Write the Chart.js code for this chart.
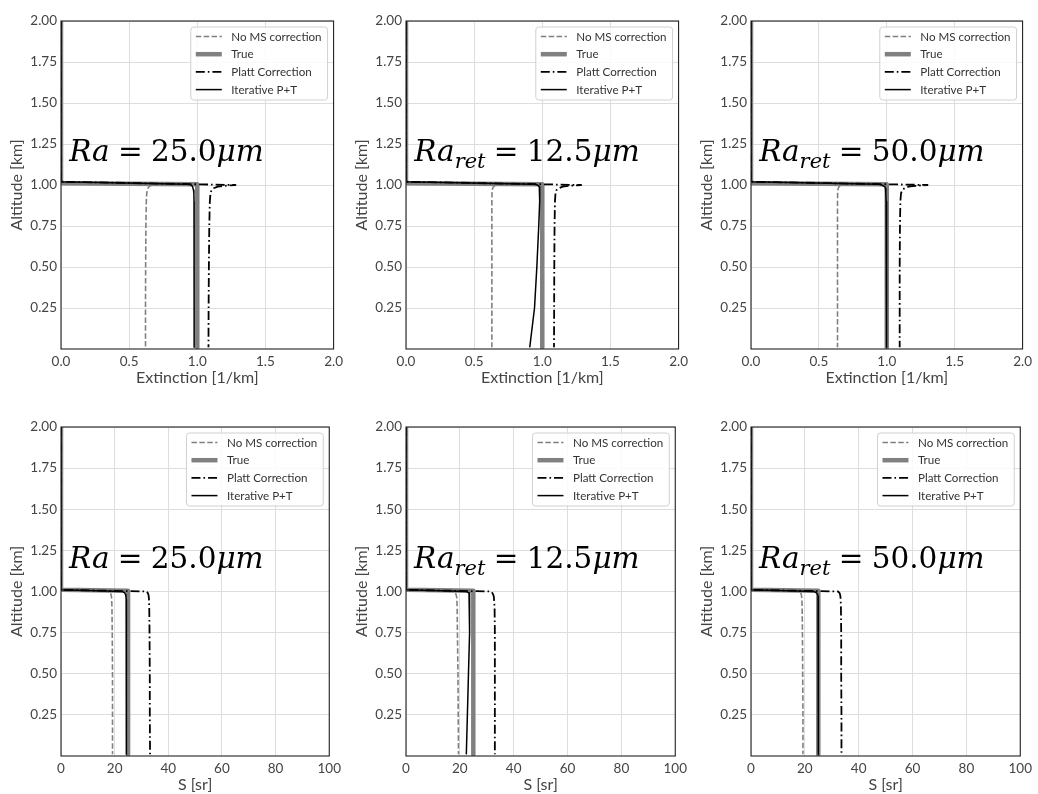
<!DOCTYPE html>
<html><head><meta charset="utf-8">
<script src="https://cdn.jsdelivr.net/npm/chart.js@4.4.1/dist/chart.umd.min.js"></script>
<style>
html,body{margin:0;padding:0;background:#fff;}
#wrap{position:relative;width:1038px;height:794px;overflow:hidden;background:#fff;}
#wrap canvas{position:absolute;}
</style></head><body><div id="wrap"></div>
<script>
// ---------- DATA ----------
// common altitude grid [km]; null = no sample for that series at that altitude
const altitude = [2.00, 1.02, 1.01, 1.005, 1.00, 0.995, 0.99, 0.98, 0.97, 0.95, 0.90, 0.75, 0.50, 0.25, 0.01];

const seriesNames = ['No MS correction', 'True', 'Platt Correction', 'Iterative P+T'];

// Extinction [1/km] panels (top row)
const ext25_noMS  = [0, 0, null, null, 0.670, 0.655, 0.645, 0.638, 0.633, 0.629, 0.626, 0.623, 0.621, 0.620, 0.620];
const ext25_true  = [0, null, 0, 1.0, null, null, null, null, null, null, null, null, null, null, 1.0];
const ext25_platt = [0, 0, null, null, 1.280, 1.200, 1.150, 1.120, 1.105, 1.097, 1.092, 1.088, 1.085, 1.083, 1.082];
const ext25_iter  = [0, 0, null, 0.930, 0.955, null, 0.965, null, 0.972, 0.975, 0.976, 0.977, 0.977, 0.977, 0.977];

const ext125_noMS  = [0, 0, null, null, 0.665, 0.650, 0.642, 0.636, 0.633, 0.631, 0.630, 0.630, 0.630, 0.630, 0.630];
const ext125_true  = [0, null, 0, 1.0, null, null, null, null, null, null, null, null, null, null, 1.0];
const ext125_platt = [0, 0, null, null, 1.285, 1.200, 1.150, 1.120, 1.105, 1.097, 1.093, 1.090, 1.088, 1.087, 1.086];
const ext125_iter  = [0, 0, null, 0.940, 0.965, null, 0.978, 0.982, 0.982, 0.981, 0.979, 0.974, 0.960, 0.943, 0.908];

const ext50_noMS  = [0, 0, null, null, 0.667, 0.655, 0.648, 0.643, 0.640, 0.638, 0.637, 0.637, 0.637, 0.637, 0.637];
const ext50_true  = [0, null, 0, 1.0, null, null, null, null, null, null, null, null, null, null, 1.0];
const ext50_platt = [0, 0, null, null, 1.300, 1.210, 1.160, 1.130, 1.115, 1.105, 1.100, 1.097, 1.095, 1.095, 1.095];
const ext50_iter  = [0, 0, null, 0.940, 0.962, null, 0.985, 0.990, 0.992, 0.994, 0.995, 0.997, 0.998, 0.999, 1.000];

// Lidar ratio S [sr] panels (bottom row)
const S25_noMS  = [0, null, 0, null, 18.0, null, 18.4, 18.7, 18.8, 18.9, 19.0, 19.1, 19.2, 19.2, 19.2];
const S25_true  = [0, null, 0, 25, null, null, null, null, null, null, null, null, null, null, 25];
const S25_platt = [0, null, 0, null, 32.0, null, 32.4, 32.6, 32.7, 32.8, 32.9, 33.0, 33.1, 33.1, 33.2];
const S25_iter  = [0, null, 0, null, 23.0, null, 23.8, 24.1, 24.2, 24.3, 24.3, 24.4, 24.4, 24.4, 24.4];

const S125_noMS  = [0, null, 0, null, 18.0, null, 18.4, 18.6, 18.8, 18.9, 19.0, 19.1, 19.3, 19.4, 19.5];
const S125_true  = [0, null, 0, 25, null, null, null, null, null, null, null, null, null, null, 25];
const S125_platt = [0, null, 0, null, 31.5, null, 32.1, 32.4, 32.6, 32.7, 32.9, 33.0, 33.0, 33.0, 33.0];
const S125_iter  = [0, null, 0, null, 22.5, null, 23.4, 23.7, 23.7, 23.7, 23.6, 23.4, 23.2, 22.8, 22.4];

const S50_noMS  = [0, null, 0, null, 18.2, null, 18.5, 18.7, 18.8, 18.9, 19.0, 19.1, 19.2, 19.3, 19.3];
const S50_true  = [0, null, 0, 25, null, null, null, null, null, null, null, null, null, null, 25];
const S50_platt = [0, null, 0, null, 32.4, null, 32.9, 33.1, 33.2, 33.3, 33.4, 33.5, 33.5, 33.6, 33.6];
const S50_iter  = [0, null, 0, null, 23.5, null, 24.4, 24.8, 24.9, 25.0, 25.0, 25.0, 25.0, 25.0, 25.0];

// tick values
const altTicks = [0.25, 0.50, 0.75, 1.00, 1.25, 1.50, 1.75, 2.00];
const extTicks = [0, 0.5, 1.0, 1.5, 2.0];
const sTicks   = [0, 20, 40, 60, 80, 100];

// texts
const yTitle = 'Altitude [km]';
const xTitles = ['Extinction [1/km]', 'S [sr]'];
const radiusValues = ['25.0', '12.5', '50.0'];
const radiusSubs   = ['', 'ret', 'ret'];

// ---------- STYLES / LAYOUT ----------
const seriesStyle = [
  {color: '#808080', width: 1.6, dash: [5.5, 2.4], order: 4},
  {color: '#808080', width: 4.5, dash: [], order: 3},
  {color: '#000000', width: 1.8, dash: [9, 3, 1.6, 3], order: 2},
  {color: '#000000', width: 1.5, dash: [], order: 1}
];

const panels = [
  {row: 0, col: 0, area: [61, 21, 334, 349],  series: [ext25_noMS, ext25_true, ext25_platt, ext25_iter]},
  {row: 0, col: 1, area: [406, 21, 679, 349], series: [ext125_noMS, ext125_true, ext125_platt, ext125_iter]},
  {row: 0, col: 2, area: [751, 21, 1023, 349], series: [ext50_noMS, ext50_true, ext50_platt, ext50_iter]},
  {row: 1, col: 0, area: [61, 427, 332, 756],  series: [S25_noMS, S25_true, S25_platt, S25_iter]},
  {row: 1, col: 1, area: [406, 427, 678, 756], series: [S125_noMS, S125_true, S125_platt, S125_iter]},
  {row: 1, col: 2, area: [751, 427, 1023, 756], series: [S50_noMS, S50_true, S50_platt, S50_iter]}
];

const Y_AXIS_W = 61, PAD_TOP = 21, PAD_RIGHT = 14, X_AXIS_H = 40;
const TICK_FONT = {family: 'Lato', size: 13.5};
const TITLE_FONT = {family: 'Lato', size: 16};
const TEXT_COLOR = '#444444';
const ANN_FONT = 'DejaVu Serif';
const ANN_SIZE = 29.5;

// ---------- PLUGINS ----------
const framePlugin = {
  id: 'frame',
  afterDatasetsDraw(chart) {
    const {ctx, chartArea: a} = chart;
    ctx.save();
    ctx.strokeStyle = '#222222';
    ctx.lineWidth = 1.1;
    ctx.setLineDash([]);
    ctx.strokeRect(a.left, a.top, a.right - a.left, a.bottom - a.top);
    ctx.restore();
  }
};

const legendPlugin = {
  id: 'boxLegend',
  afterDatasetsDraw(chart) {
    const {ctx, chartArea: a} = chart;
    const ds = chart.data.datasets;
    ctx.save();
    ctx.font = '11.6px Lato';
    const tw = Math.max(...ds.map(d => ctx.measureText(d.label).width));
    const w = 40.5 + tw + 6, h = 73;
    const x0 = a.right - 6 - w, y0 = a.top + 6;
    ctx.beginPath();
    ctx.roundRect(x0, y0, w, h, 3);
    ctx.fillStyle = 'rgba(255,255,255,0.85)';
    ctx.fill();
    ctx.strokeStyle = '#d0d0d0';
    ctx.lineWidth = 1;
    ctx.stroke();
    ds.forEach((d, i) => {
      const y = y0 + 9.5 + i * 17.7;
      ctx.beginPath();
      ctx.setLineDash(d.borderDash || []);
      ctx.lineWidth = d.borderWidth;
      ctx.strokeStyle = d.borderColor;
      ctx.lineCap = 'butt';
      ctx.moveTo(x0 + 5, y);
      ctx.lineTo(x0 + 31, y);
      ctx.stroke();
      ctx.setLineDash([]);
      ctx.fillStyle = '#333333';
      ctx.textBaseline = 'middle';
      ctx.textAlign = 'left';
      ctx.fillText(d.label, x0 + 40.5, y + 0.5);
    });
    ctx.restore();
  }
};

const annotationPlugin = {
  id: 'radiusNote',
  afterDatasetsDraw(chart, args, opts) {
    const {ctx, chartArea: a} = chart;
    ctx.save();
    ctx.fillStyle = '#000000';
    ctx.textBaseline = 'alphabetic';
    ctx.textAlign = 'left';
    let x = a.left + 0.03 * (a.right - a.left);
    const y = a.bottom - 0.572 * (a.bottom - a.top);
    const F = ANN_SIZE;
    const draw = (txt, font, dy) => {
      ctx.font = font;
      ctx.fillText(txt, x, y + (dy || 0));
      x += ctx.measureText(txt).width;
    };
    draw('Ra', `italic ${F}px "${ANN_FONT}"`);
    if (opts.sub) draw(opts.sub, `italic ${Math.round(F * 0.7)}px "${ANN_FONT}"`, F * 0.24);
    x += F * 0.28;
    draw('=', `${F}px "${ANN_FONT}"`);
    x += F * 0.28;
    draw(opts.value, `${F}px "${ANN_FONT}"`);
    draw('\u03bcm', `italic ${F}px "${ANN_FONT}"`);
    ctx.restore();
  }
};

// ---------- BUILD ----------
const wrap = document.getElementById('wrap');
panels.forEach(p => {
  const [L, T, R, B] = p.area;
  const cw = (R - L) + Y_AXIS_W + PAD_RIGHT;
  const ch = (B - T) + PAD_TOP + X_AXIS_H;
  const cv = document.createElement('canvas');
  cv.width = cw; cv.height = ch;
  cv.style.left = (L - Y_AXIS_W) + 'px';
  cv.style.top = (T - PAD_TOP) + 'px';
  cv.style.width = cw + 'px'; cv.style.height = ch + 'px';
  wrap.appendChild(cv);

  const isExt = p.row === 0;
  const xTicks = isExt ? extTicks : sTicks;

  const datasets = p.series.map((vals, si) => ({
    label: seriesNames[si],
    data: altitude.map((alt, i) => vals[i] === null ? null : {x: vals[i], y: alt}).filter(v => v !== null),
    showLine: true,
    pointRadius: 0,
    pointHoverRadius: 0,
    borderColor: seriesStyle[si].color,
    borderWidth: seriesStyle[si].width,
    borderDash: seriesStyle[si].dash,
    borderJoinStyle: 'round',
    borderCapStyle: 'butt',
    tension: 0,
    fill: false,
    order: seriesStyle[si].order
  }));

  new Chart(cv, {
    type: 'scatter',
    data: {datasets},
    options: {
      responsive: false,
      animation: false,
      devicePixelRatio: 1,
      layout: {padding: {top: PAD_TOP, right: PAD_RIGHT, left: 0, bottom: 0}},
      plugins: {
        legend: {display: false},
        tooltip: {enabled: false},
        radiusNote: {value: radiusValues[p.col], sub: radiusSubs[p.col]}
      },
      scales: {
        x: {
          type: 'linear',
          min: xTicks[0], max: xTicks[xTicks.length - 1],
          afterBuildTicks: s => { s.ticks = xTicks.map(v => ({value: v})); },
          afterFit: s => { s.height = X_AXIS_H; },
          grid: {color: '#dddddd', lineWidth: 1, drawTicks: false},
          border: {display: false},
          ticks: {
            padding: 5, font: TICK_FONT, color: TEXT_COLOR, maxRotation: 0, autoSkip: false,
            callback: v => isExt ? Number(v).toFixed(1) : String(v)
          },
          title: {display: true, text: xTitles[p.row], font: TITLE_FONT, color: TEXT_COLOR, padding: {top: 0, bottom: 2}}
        },
        y: {
          type: 'linear',
          min: 0, max: 2,
          afterBuildTicks: s => { s.ticks = altTicks.map(v => ({value: v})); },
          afterFit: s => { s.width = Y_AXIS_W; },
          grid: {color: '#dddddd', lineWidth: 1, drawTicks: false},
          border: {display: false},
          ticks: {padding: 4, font: TICK_FONT, color: TEXT_COLOR, autoSkip: false,
            callback: v => Number(v).toFixed(2)},
          title: {display: true, text: yTitle, font: TITLE_FONT, color: TEXT_COLOR, padding: {top: 7, bottom: 0}}
        }
      }
    },
    plugins: [framePlugin, legendPlugin, annotationPlugin]
  });
});
</script>
</body></html>
